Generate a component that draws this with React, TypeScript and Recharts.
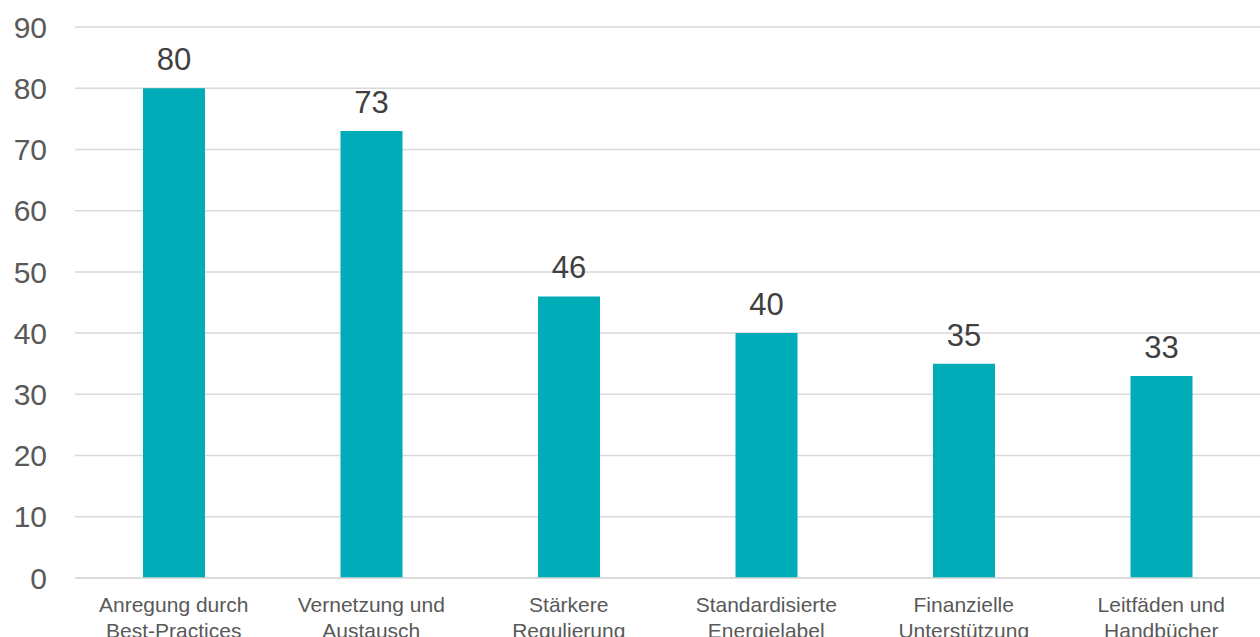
import { BarChart, Bar, XAxis, YAxis, CartesianGrid, LabelList } from 'recharts'

const categories = [
  'Anregung durch\nBest-Practices',
  'Vernetzung und\nAustausch',
  'Stärkere\nRegulierung',
  'Standardisierte\nEnergielabel',
  'Finanzielle\nUnterstützung',
  'Leitfäden und\nHandbücher',
]
const values = [80, 73, 46, 40, 35, 33]
const yTicks = [0, 10, 20, 30, 40, 50, 60, 70, 80, 90]

const data = categories.map((name, i) => ({ name, value: values[i] }))

const FONT = 'Liberation Sans, Arial, sans-serif'

// two-line category labels, centred under the bar
function CategoryTick(props: any) {
  const { x, y, payload } = props
  const lines = String(payload.value).split('\n')
  return (
    <text x={x} y={y} textAnchor="middle" fill="#595959" fontSize={21} fontFamily={FONT}>
      {lines.map((line, i) => (
        <tspan key={i} x={x} dy={i === 0 ? 30 : 26}>
          {line}
        </tspan>
      ))}
    </text>
  )
}

export default function App() {
  return (
    <div style={{ position: 'absolute', top: 0, left: 0, width: 1260, height: 637, background: '#fff' }}>
      <BarChart
        width={1260}
        height={637}
        data={data}
        margin={{ top: 27, right: 0, left: 0, bottom: 0 }}
        barCategoryGap={0}
      >
        <CartesianGrid vertical={false} stroke="#d9d9d9" strokeWidth={1.5} />
        <XAxis
          dataKey="name"
          height={59}
          axisLine={{ stroke: '#d9d9d9', strokeWidth: 1.5 }}
          tickLine={false}
          tickSize={0}
          tickMargin={4}
          interval={0}
          tick={<CategoryTick />}
        />
        <YAxis
          width={75}
          domain={[0, 90]}
          ticks={yTicks}
          axisLine={false}
          tickLine={false}
          tickSize={0}
          tickMargin={28}
          tick={{ fontSize: 30, fill: '#595959', fontFamily: FONT }}
        />
        <Bar dataKey="value" fill="#00acb8" barSize={62} isAnimationActive={false}>
          <LabelList
            dataKey="value"
            position="top"
            offset={18}
            fill="#404040"
            fontSize={31}
            fontFamily={FONT}
          />
        </Bar>
      </BarChart>
    </div>
  )
}
